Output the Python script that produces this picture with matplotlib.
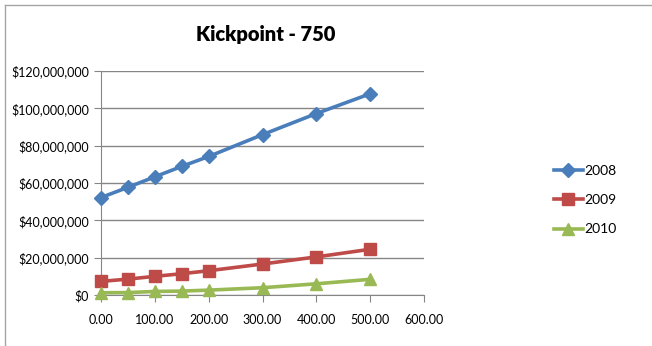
import matplotlib.pyplot as plt
from matplotlib.lines import Line2D
from matplotlib.ticker import FuncFormatter, MultipleLocator

plt.rcParams['font.family'] = ['Lato', 'DejaVu Sans']

x_vals = [0, 50, 100, 150, 200, 300, 400, 500]
years = ['2008', '2009', '2010']
s2008 = [52.2e6, 57.7e6, 63.3e6, 68.9e6, 74.2e6, 85.9e6, 97.2e6, 107.8e6]
s2009 = [7.3e6, 8.5e6, 10.0e6, 11.4e6, 13.0e6, 16.6e6, 20.4e6, 24.5e6]
s2010 = [1.2e6, 1.3e6, 1.9e6, 2.1e6, 2.6e6, 3.9e6, 6.0e6, 8.4e6]

colors = ['#4A7EBB', '#BE4B48', '#98B954']
markers = ['D', 's', '^']
msizes = [7, 8, 9]

fig = plt.figure(figsize=(6.52, 3.46), dpi=100)
ax = fig.add_axes([101/652, 1 - 295/346, 323/652, 224/346])

# chart frame (only left and top edges fall inside the image)
fig.add_artist(Line2D([5/652, 5/652], [0, 1 - 5/346], color='#A6A6A6', lw=1, transform=fig.transFigure))
fig.add_artist(Line2D([5/652, 1], [1 - 5/346, 1 - 5/346], color='#A6A6A6', lw=1, transform=fig.transFigure))

for ys, c, m, ms, lab in zip([s2008, s2009, s2010], colors, markers, msizes, years):
    ax.plot(x_vals, ys, color=c, lw=2.6, marker=m, markersize=ms, label=lab, clip_on=False, zorder=3)

ax.set_xlim(0, 600)
ax.set_ylim(0, 120e6)
ax.xaxis.set_major_locator(MultipleLocator(100))
ax.yaxis.set_major_locator(MultipleLocator(20e6))
ax.xaxis.set_major_formatter(FuncFormatter(lambda v, p: f'{v:.2f}'))
ax.yaxis.set_major_formatter(FuncFormatter(lambda v, p: f'${v:,.0f}'))
ax.grid(axis='y', color='#868686', lw=1)
ax.set_axisbelow(True)
for side in ['top', 'right']:
    ax.spines[side].set_visible(False)
for side in ['left', 'bottom']:
    ax.spines[side].set_color('#868686')
ax.tick_params(axis='both', colors='#868686', labelcolor='black', labelsize=9, length=5, direction='out')
ax.tick_params(axis='x', pad=9)

fig.text(266/652, 1 - 35/346, 'Kickpoint - 750', ha='center', va='center', fontsize=14.5, fontweight='heavy')

ax.legend(loc='center left', bbox_to_anchor=(541/652, 1 - 200/346), bbox_transform=fig.transFigure,
          frameon=False, fontsize=10, handlelength=2.1, handletextpad=0.15, labelspacing=1.25)

fig.savefig('out.png', dpi=100)
